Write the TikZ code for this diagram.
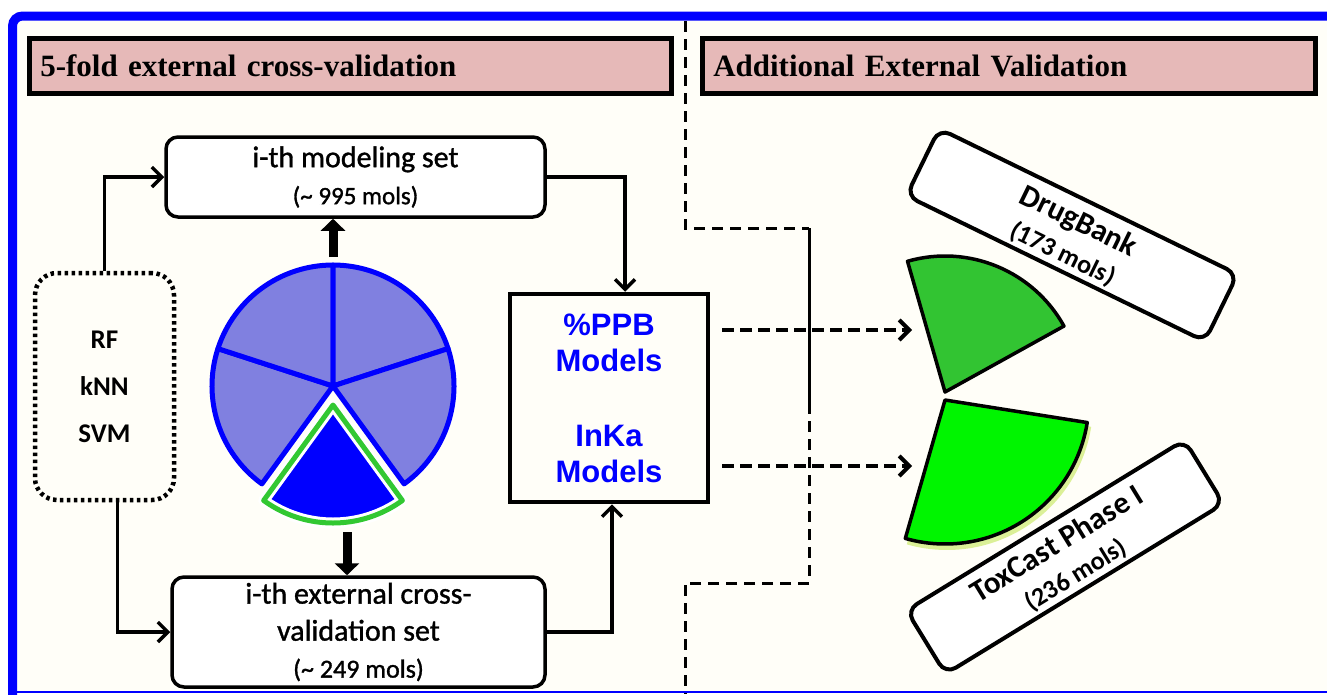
\documentclass[tikz,border=0pt]{standalone}
\usepackage{fontspec}
\setmainfont{Liberation Serif}
\newfontfamily\calibri{Carlito}
\newfontfamily\calibrisemi[FakeBold=1.2]{Carlito}
\newfontfamily\arialfont{Liberation Sans}
\usetikzlibrary{arrows.meta,calc}

\definecolor{hdrpink}{RGB}{230,185,184}
\definecolor{piefill}{RGB}{128,128,224}
\definecolor{piegreen}{RGB}{50,200,50}
\definecolor{darkgreen}{RGB}{50,196,50}
\definecolor{brightgreen}{RGB}{0,245,0}
\definecolor{glowgreen}{RGB}{205,235,110}
\definecolor{cream}{RGB}{255,254,248}
\definecolor{pureblue}{RGB}{0,0,255}

\tikzset{
  hdrbox/.style={draw, line width=4.5pt, fill=hdrpink, anchor=north west, minimum height=55pt,
    inner xsep=11pt, align=left, font=\fontsize{31}{36}\selectfont\bfseries},
  setbox/.style={draw, line width=3.5pt, rounded corners=12pt, fill=white, align=center,
    font=\calibrisemi\fontsize{30}{37}\selectfont},
  conn/.style={line width=3.5pt, -{Straight Barb[length=10pt,width=20pt,line width=3.5pt]}},
  fatarrow/.style={line width=9pt, -{Triangle[length=12pt,width=24pt]}},
  dasharrow/.style={line width=4pt, dash pattern=on 12pt off 6pt, -{Straight Barb[length=10pt,width=20pt]}},
  divider/.style={line width=3pt, dash pattern=on 11pt off 7pt},
  slice/.style={fill=piefill, draw=pureblue, line width=5pt, line join=round},
  databox/.style={draw, line width=4pt, rounded corners=12pt, fill=white,
    font=\calibri\bfseries\fontsize{31}{33}\selectfont},
}

\begin{document}
\begin{tikzpicture}[x=1pt, y=-1pt]
    \useasboundingbox (0,0) rectangle (1327,694); % 画布大小
    \fill[cream] (12,16) rectangle (1327,692); % 底色
    \draw[pureblue, line width=9pt, rounded corners=10pt] (12.5,700) -- (12.5,16) -- (1335,16); % 蓝色外框
    \draw[pureblue, line width=2pt] (12,692) -- (1327,692); % 底边

    \node[hdrbox, minimum width=642pt, text width=620pt] (hdrleft) at (27,36) {5-fold external cross-validation}; % 左标题
    \node[hdrbox, minimum width=613pt, text width=591pt] (hdrright) at (700,36) {Additional External Validation}; % 右标题

    \draw[divider] (685,21) -- (685,228) -- (809,228); % 分隔线
    \draw[line width=3pt] (809,228) -- (809,403);
    \draw[divider] (809,403) -- (809,583) -- (685,583) -- (685,694);

    \node[setbox, minimum width=379pt, minimum height=80pt] (modset) at (355.5,177)
        {i-th modeling set\\{\fontsize{25}{30}\selectfont (\textasciitilde{} 995 mols)}}; % 建模集
    \node[setbox, minimum width=373pt, minimum height=110pt] (extset) at (358.5,632)
        {i-th external cross-\\validation set\\{\fontsize{26}{30}\selectfont (\textasciitilde{} 249 mols)}}; % 外部验证集
    \node[draw, line width=4.5pt, rounded corners=22pt, dash pattern=on 3.5pt off 3.5pt,
        minimum width=139pt, minimum height=227pt, align=center,
        font=\calibri\bfseries\fontsize{27}{47}\selectfont] (algos) at (104.5,386.5) {RF\\kNN\\SVM}; % 方法
    \node[draw, line width=4.5pt, minimum width=198pt, minimum height=208pt, inner sep=0pt,
        align=center, text=pureblue, font=\arialfont\bfseries\fontsize{31}{36}\selectfont]
        (models) at (609,398) {\%PPB\\Models\\[39pt]InKa\\Models}; % 模型

    \draw[conn] (algos.north) |- (modset.west);
    \draw[conn] ([xshift=13pt]algos.south) |- (extset.west);
    \draw[conn] (modset.east) -| ([xshift=16pt]models.north);
    \draw[conn] (extset.east) -| ([xshift=3pt]models.south);

    % 五折饼图
    \begin{scope}[shift={(333,386)}, yscale=-1]
        \foreach \a/\b in {162/234, 90/162, 18/90, -54/18}
            \draw[slice] (0,0) -- (\a:121) arc[start angle=\a, end angle=\b, radius=121] -- cycle;
        \begin{scope}[shift={(0,-19)}]
            \draw[white, line width=11pt, line join=round, fill=pureblue] (0,0) -- (234:118) arc[start angle=234, end angle=306, radius=118] -- cycle;
            \draw[piegreen, line width=5pt, line join=round] (0,0) -- (234:118) arc[start angle=234, end angle=306, radius=118] -- cycle;
        \end{scope}
    \end{scope}
    \draw[fatarrow] (333,257) -- (modset.south -| 333,0); % 粗箭头
    \draw[fatarrow] (347,532) -- (extset.north -| 347,0);

    % 右侧外部数据
    \begin{scope}[shift={(945,392)}, yscale=-1]
        \draw[line width=3.5pt, line join=round, fill=darkgreen] (0,0) -- (29:136) arc[start angle=29, end angle=106, radius=136] -- cycle;
    \end{scope}
    \begin{scope}[shift={(945,400)}, yscale=-1]
        \fill[glowgreen, opacity=0.7] (2,-4) -- ++(-106:146) arc[start angle=-106, end angle=-9, radius=146] -- cycle;
        \draw[line width=3.5pt, line join=round, fill=brightgreen] (0,0) -- (-106:144) arc[start angle=-106, end angle=-9, radius=144] -- cycle;
    \end{scope}
    \coordinate (dbin) at (912,330);
    \coordinate (tcin) at (912,466);
    \draw[dasharrow] (models.east |- dbin) ++(12,0) -- (dbin);
    \draw[dasharrow] (models.east |- tcin) ++(12,0) -- (tcin);

    \node[databox, rotate=-26, minimum width=332pt, minimum height=66pt] (drugbank) at (1072,235)
        {\raisebox{-5pt}[\height][\depth]{\begin{tabular}{@{}c@{}}DrugBank\\[2pt]{\fontsize{26}{28}\selectfont (173 mols)}\end{tabular}}};
    \node[databox, rotate=31.5, minimum width=326pt, minimum height=70pt] (toxcast) at (1065,557)
        {\raisebox{-5pt}[\height][\depth]{\begin{tabular}{@{}c@{}}ToxCast Phase I\\[2pt]{\fontsize{26}{28}\selectfont (236 mols)}\end{tabular}}};
\end{tikzpicture}
\end{document}
